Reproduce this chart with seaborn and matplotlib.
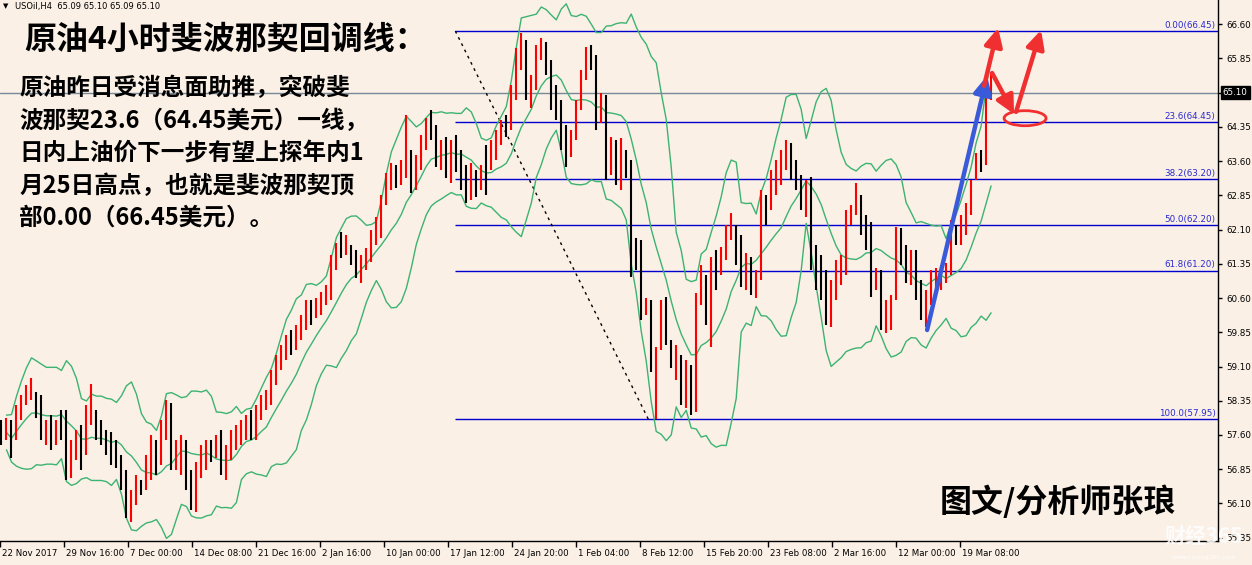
import numpy as np
import pandas as pd
import matplotlib
matplotlib.use("Agg")
import matplotlib.pyplot as plt
import matplotlib.transforms as mtransforms
from matplotlib.patches import Ellipse
import seaborn as sns

# ---------------- data (USOil H4) ----------------
highs = [57.93,57.97,57.93,58.26,58.48,58.70,58.85,58.54,58.48,57.93,
         58.04,57.93,58.15,58.15,57.49,57.71,57.82,58.26,58.72,58.15,
         57.93,57.71,57.66,57.49,57.16,56.83,56.39,56.72,56.61,57.16,
         57.60,57.49,57.93,58.37,58.30,57.49,57.60,57.49,56.83,57.01,
         57.38,57.49,57.49,57.60,57.71,57.38,57.71,57.82,57.93,58.04,
         58.15,58.26,58.48,58.59,59.02,59.35,59.57,59.79,59.90,60.01,
         60.23,60.56,60.56,60.60,60.73,60.89,61.54,61.81,62.05,61.98,
         61.76,61.65,61.54,61.70,62.09,62.38,62.86,63.34,63.56,63.51,
         63.62,64.61,63.84,63.73,64.17,64.54,64.72,64.39,64.06,64.13,
         64.06,64.17,63.84,63.51,63.56,63.40,63.51,63.95,64.06,64.28,
         64.50,64.61,65.27,66.08,66.41,66.25,65.49,66.14,66.30,66.21,
         65.82,65.27,64.94,64.39,64.28,64.94,65.60,66.10,66.14,65.92,
         65.09,65.05,64.13,64.06,64.11,63.84,63.62,61.91,61.87,60.60,
         60.56,59.53,60.56,60.62,59.68,59.57,59.35,59.24,59.13,60.71,
         61.32,61.10,61.50,61.65,61.72,62.20,62.46,62.20,61.98,61.59,
         61.50,61.21,62.97,62.86,63.40,63.62,63.84,64.06,64.00,63.62,
         63.30,63.19,63.25,61.76,61.54,61.21,61.00,61.43,61.54,62.53,
         62.64,63.12,62.86,62.42,62.27,61.26,61.21,60.56,60.67,62.16,
         62.13,61.76,61.65,61.65,61.00,60.78,61.21,61.26,61.32,61.37,
         62.31,62.20,62.42,62.68,63.19,63.78,63.84,65.05,65.55]
lows = [57.38,57.49,57.10,57.49,57.93,58.26,58.37,57.97,57.49,57.38,
        57.27,57.38,57.49,56.61,56.66,57.05,56.83,57.16,57.82,57.49,
        57.38,57.16,56.94,56.88,56.39,55.78,55.69,56.07,56.28,56.39,
        56.61,56.72,56.94,57.49,56.83,56.83,56.72,56.39,55.96,55.91,
        56.66,56.83,57.01,57.10,56.72,56.61,57.05,57.27,57.38,57.49,
        57.49,57.49,57.93,58.15,58.26,58.70,59.02,59.24,59.35,59.46,
        59.68,59.90,60.01,60.16,60.23,60.45,60.56,61.21,61.48,61.54,
        61.32,61.04,60.93,61.21,61.39,61.76,61.91,62.64,62.97,63.01,
        63.08,63.23,62.90,62.97,63.40,63.84,64.06,63.47,63.40,63.23,
        63.12,63.36,62.97,62.68,62.75,62.81,62.97,62.86,63.40,63.62,
        63.95,64.13,64.28,64.94,65.60,64.94,64.76,65.16,65.82,65.49,
        64.72,64.50,63.84,63.47,63.69,64.06,64.72,65.38,65.60,64.28,
        64.44,63.19,63.30,63.08,62.97,63.23,61.06,61.21,60.12,60.23,
        58.98,57.95,59.46,59.57,59.07,58.80,58.26,58.19,58.04,58.10,
        60.45,60.01,59.53,60.78,61.10,61.43,61.87,61.32,60.84,60.78,
        60.67,60.60,61.00,62.20,62.53,62.86,63.08,63.40,63.19,62.97,
        62.53,62.38,61.21,60.78,60.56,60.01,59.97,60.56,60.89,61.10,
        62.20,62.42,61.98,61.65,60.62,60.78,59.90,59.83,59.90,60.56,
        61.32,60.93,60.89,60.56,60.12,59.97,60.45,60.67,60.78,60.93,
        61.10,61.76,61.76,61.98,62.42,63.19,63.36,63.51,64.94]
closes = [57.49,57.82,57.27,58.15,58.41,58.63,58.76,58.15,57.71,57.82,
          57.49,57.75,57.60,56.72,57.38,57.49,57.05,58.04,58.15,57.60,
          57.49,57.38,57.10,57.01,56.50,55.96,56.18,56.61,56.50,57.05,
          57.38,56.94,57.82,58.26,57.05,57.38,57.49,56.50,56.07,56.83,
          57.27,57.38,57.27,57.49,56.83,57.27,57.60,57.71,57.82,57.93,
          57.60,58.15,58.37,58.48,58.91,59.20,59.46,59.68,59.57,59.90,
          60.12,60.45,60.16,60.34,60.60,60.78,61.39,61.70,61.65,61.76,
          61.48,61.21,61.39,61.54,61.98,62.20,62.75,63.23,63.40,63.19,
          63.45,63.84,63.08,63.51,64.06,64.39,64.28,63.62,63.84,63.40,
          63.84,63.51,63.08,62.86,63.40,63.08,63.30,63.08,63.95,64.17,
          64.33,64.28,65.16,65.92,66.14,65.05,65.27,66.03,66.14,65.60,
          64.94,64.61,64.06,63.62,64.17,64.83,65.49,65.92,65.71,64.50,
          64.94,63.40,63.95,63.40,63.84,63.51,61.65,61.39,60.34,60.49,
          59.13,59.46,60.34,59.79,59.24,59.46,58.48,59.02,58.15,60.56,
          61.10,60.12,61.32,61.21,61.54,62.09,62.31,61.48,61.00,61.43,
          60.89,61.00,62.75,62.64,63.08,63.51,63.62,63.95,63.30,63.08,
          62.75,62.97,61.54,61.00,60.78,60.23,60.56,61.21,61.32,62.42,
          62.53,62.86,62.09,61.87,60.89,61.10,60.12,60.34,60.56,61.98,
          61.54,61.21,61.43,60.67,60.29,60.56,61.00,61.10,61.21,61.26,
          62.20,61.87,62.31,62.53,63.08,63.67,63.62,64.94,65.10]
first_open = 57.60

date_labels = ["22 Nov 2017", "29 Nov 16:00", "7 Dec 00:00", "14 Dec 08:00",
               "21 Dec 16:00", "2 Jan 16:00", "10 Jan 00:00", "17 Jan 12:00",
               "24 Jan 20:00", "1 Feb 04:00", "8 Feb 12:00", "15 Feb 20:00",
               "23 Feb 08:00", "2 Mar 16:00", "12 Mar 00:00", "19 Mar 08:00"]

fib_levels = [66.45, 64.45, 63.20, 62.20, 61.20, 57.95]
fib_labels = ["0.00(66.45)", "23.6(64.45)", "38.2(63.20)", "50.0(62.20)",
              "61.8(61.20)", "100.0(57.95)"]
fib_anchor_bars = [90.8, 129.4]      # bar positions of the fib trend line ends
last_price = 65.10
header = "USOil,H4  65.09 65.10 65.09 65.10"
title = "原油4小时斐波那契回调线："
body_lines = ["原油昨日受消息面助推，突破斐",
              "波那契23.6（64.45美元）一线，",
              "日内上油价下一步有望上探年内1",
              "月25日高点，也就是斐波那契顶",
              "部0.00（66.45美元）。"]
author = "图文/分析师张琅"

# ---------------- style ----------------
sns.set_style("white")
plt.rcParams['font.family'] = ['DejaVu Sans']
BG = "#FAF0E6"
CJK = ['Noto Sans CJK SC', 'DejaVu Sans']

W, H = 1252, 565
fig = plt.figure(figsize=(W / 100, H / 100), dpi=100, facecolor=BG)
ax = fig.add_axes([0, 24 / H, 1218 / W, 541 / H])
ax.set_facecolor(BG)

n = len(closes)
idx = np.arange(n)
df = pd.DataFrame({"i": idx, "high": highs, "low": lows, "close": closes})
df["open"] = df["close"].shift(1).fillna(first_open)
up = df["close"] >= df["open"]

# Bollinger bands on the resampled bars
roll = df["close"].rolling(10, min_periods=2)
df["mid"] = roll.mean()
sd = roll.std(ddof=0)
df["upper"] = df["mid"] + 2.3 * sd
df["lower"] = df["mid"] - 2.3 * sd
for col in ["upper", "mid", "lower"]:
    sns.lineplot(data=df, x="i", y=col, ax=ax, color="#3CB371", lw=1.0,
                 legend=False, zorder=2)

# OHLC bars
ax.vlines(df["i"][up], df["low"][up], df["high"][up], color="#FF0000", lw=1.5, zorder=3)
ax.vlines(df["i"][~up], df["low"][~up], df["high"][~up], color="#000000", lw=1.5, zorder=3)

# limits
ax.set_xlim(-0.2, 243.4)
ax.set_ylim(55.277, 67.13)

# last price line
ax.axhline(last_price, color="#778899", lw=1.0, zorder=1)

# fibonacci levels
for lv, lb in zip(fib_levels, fib_labels):
    ax.hlines(lv, fib_anchor_bars[0], 243.4, color="#0000CD", lw=1.0, zorder=1)
    ax.text(0.998, lv + 0.03, lb, transform=ax.get_yaxis_transform(),
            ha="right", va="bottom", fontsize=6.3, color="#2A2ACF")
ax.plot(fib_anchor_bars, [fib_levels[0], fib_levels[-1]], color="black",
        lw=1.0, ls=(0, (2, 3)), zorder=1)

# arrows and ellipse
def arrow(x0, y0, x1, y1, c):
    ax.annotate("", xy=(x1, y1), xytext=(x0, y0),
                arrowprops=dict(arrowstyle="-|>,head_length=0.9,head_width=0.45",
                                lw=3.2, color=c, shrinkA=0, shrinkB=0,
                                mutation_scale=12), zorder=5)

arrow(185.2, 59.90, 197.2, 65.47, "#3A5BD9")
arrow(196.6, 65.25, 199.4, 66.52, "#F03030")
arrow(198.2, 65.53, 202.6, 64.63, "#F03030")
arrow(203.0, 64.68, 208.0, 66.47, "#F03030")
ax.add_patch(Ellipse((204.8, 64.54), 8.4, 0.33, fill=False, ec="#F03030",
                     lw=2.0, zorder=5))

# axes styling
for s in ["top", "left"]:
    ax.spines[s].set_visible(False)
for s in ["right", "bottom"]:
    ax.spines[s].set_color("black")
    ax.spines[s].set_linewidth(1.0)

yt = np.round(np.arange(55.35, 66.61, 0.75), 2)
ax.yaxis.tick_right()
ax.set_yticks(yt)
# the tick at the last price is covered by the black price box
ax.set_yticklabels(["" if abs(v - last_price) < 1e-6 else f"{v:.2f}" for v in yt])
ax.tick_params(axis="y", direction="out", length=3, width=1, pad=3,
               labelsize=6.3, colors="black", right=True, left=False)

xt = -0.3 + 12.8 * np.arange(len(date_labels))
ax.set_xticks(xt)
ax.set_xticklabels(date_labels, ha="left")
ax.tick_params(axis="x", direction="out", length=4, width=1, pad=2,
               labelsize=6.2, colors="black", bottom=True)
offset = mtransforms.ScaledTranslation(2 / 100, 0, fig.dpi_scale_trans)
for lab in ax.get_xticklabels():
    lab.set_transform(lab.get_transform() + offset)
ax.set_xlabel("")
ax.set_ylabel("")

# current price box
ax.text(1.004, last_price, f"{last_price:.2f}", transform=ax.get_yaxis_transform(),
        ha="left", va="center", fontsize=6.3, color="white", zorder=6,
        bbox=dict(boxstyle="square,pad=0.25", fc="black", ec="black"))

# header
fig.text(3 / W, 1 - 6 / H, "▼", fontsize=5, ha="left", va="center", color="black")
fig.text(15 / W, 1 - 6 / H, header, fontsize=6, ha="left", va="center", color="black")

# title & body text
fig.text(24 / W, 1 - 40 / H, title, family=CJK, fontweight="bold", fontsize=23,
         ha="left", va="center", color="black")
ys = [88, 121, 153, 186, 218]
for line, y in zip(body_lines, ys):
    fig.text(19 / W, 1 - y / H, line, family=CJK, fontweight="bold", fontsize=17,
             ha="left", va="center", color="black")
fig.text(940 / W, 1 - 502 / H, author, family=CJK, fontweight="bold", fontsize=23,
         ha="left", va="center", color="black")

# watermark
fig.text(1204 / W, 1 - 536 / H, "财经365", family=CJK, fontweight="bold",
         fontsize=15, ha="center", va="center", color="white", alpha=0.85)
fig.text(1204 / W, 1 - 557 / H, "www.caijing365.com", fontsize=4.5,
         ha="center", va="center", color="white", alpha=0.9)

fig.savefig("out.png", dpi=100, facecolor=BG)
